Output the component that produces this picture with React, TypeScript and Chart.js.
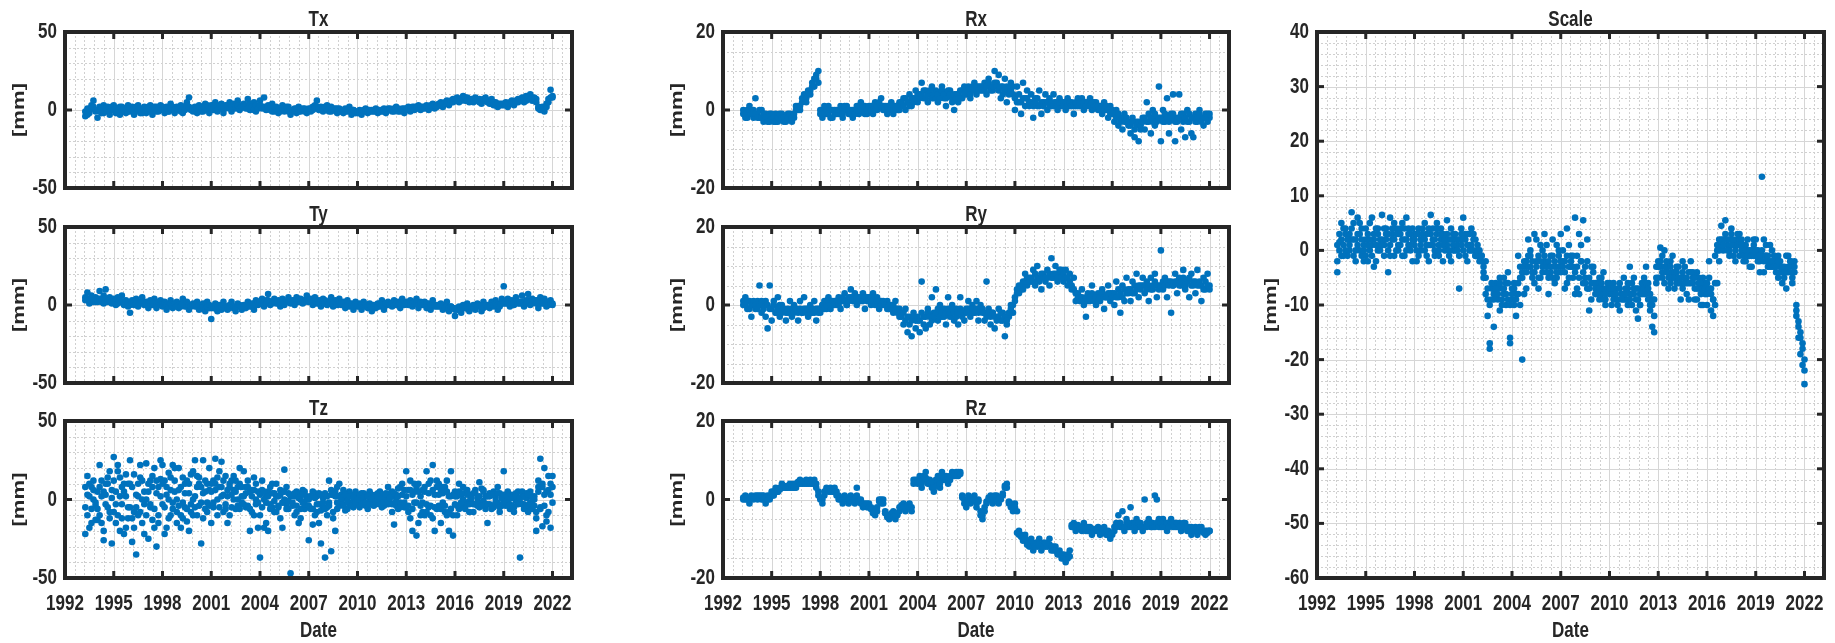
import React, { useEffect, useRef } from 'react';
import { Chart, registerables } from 'chart.js';
Chart.register(...registerables);

// ---------- data ----------
const X_MIN = 1992;
const X_MAX = 2023.2;
const X_TICKS = [1992, 1995, 1998, 2001, 2004, 2007, 2010, 2013, 2016, 2019, 2022];
const T_TICKS = [-50, 0, 50];
const R_TICKS = [-20, 0, 20];
const S_TICKS = [-60, -50, -40, -30, -20, -10, 0, 10, 20, 30, 40];

const DATES = [
  [1993.25, 1993.38, 1993.5, 1993.63, 1993.75, 1993.88],
  [1994, 1994.13, 1994.25, 1994.38, 1994.5, 1994.63, 1994.75, 1994.88],
  [1995, 1995.13, 1995.25, 1995.38, 1995.5, 1995.63, 1995.75, 1995.88],
  [1996, 1996.13, 1996.25, 1996.38, 1996.5, 1996.63, 1996.75, 1996.88],
  [1997, 1997.13, 1997.25, 1997.38, 1997.5, 1997.63, 1997.75, 1997.88],
  [1998, 1998.13, 1998.25, 1998.38, 1998.5, 1998.63, 1998.75, 1998.88],
  [1999, 1999.13, 1999.25, 1999.38, 1999.5, 1999.63, 1999.75, 1999.88],
  [2000, 2000.13, 2000.25, 2000.38, 2000.5, 2000.63, 2000.75, 2000.88],
  [2001, 2001.13, 2001.25, 2001.38, 2001.5, 2001.63, 2001.75, 2001.88],
  [2002, 2002.13, 2002.25, 2002.38, 2002.5, 2002.63, 2002.75, 2002.88],
  [2003, 2003.13, 2003.25, 2003.38, 2003.5, 2003.63, 2003.75, 2003.88],
  [2004, 2004.13, 2004.25, 2004.38, 2004.5, 2004.63, 2004.75, 2004.88],
  [2005, 2005.13, 2005.25, 2005.38, 2005.5, 2005.63, 2005.75, 2005.88],
  [2006, 2006.13, 2006.25, 2006.38, 2006.5, 2006.63, 2006.75, 2006.88],
  [2007, 2007.13, 2007.25, 2007.38, 2007.5, 2007.63, 2007.75, 2007.88],
  [2008, 2008.13, 2008.25, 2008.38, 2008.5, 2008.63, 2008.75, 2008.88],
  [2009, 2009.13, 2009.25, 2009.38, 2009.5, 2009.63, 2009.75, 2009.88],
  [2010, 2010.13, 2010.25, 2010.38, 2010.5, 2010.63, 2010.75, 2010.88],
  [2011, 2011.13, 2011.25, 2011.38, 2011.5, 2011.63, 2011.75, 2011.88],
  [2012, 2012.13, 2012.25, 2012.38, 2012.5, 2012.63, 2012.75, 2012.88],
  [2013, 2013.13, 2013.25, 2013.38, 2013.5, 2013.63, 2013.75, 2013.88],
  [2014, 2014.13, 2014.25, 2014.38, 2014.5, 2014.63, 2014.75, 2014.88],
  [2015, 2015.13, 2015.25, 2015.38, 2015.5, 2015.63, 2015.75, 2015.88],
  [2016, 2016.13, 2016.25, 2016.38, 2016.5, 2016.63, 2016.75, 2016.88],
  [2017, 2017.13, 2017.25, 2017.38, 2017.5, 2017.63, 2017.75, 2017.88],
  [2018, 2018.13, 2018.25, 2018.38, 2018.5, 2018.63, 2018.75, 2018.88],
  [2019, 2019.13, 2019.25, 2019.38, 2019.5, 2019.63, 2019.75, 2019.88],
  [2020, 2020.13, 2020.25, 2020.38, 2020.5, 2020.63, 2020.75, 2020.88],
  [2021, 2021.13, 2021.25, 2021.38, 2021.5, 2021.63, 2021.75, 2021.88],
  [2022],
];

const TX = [
  [-4, 1, -2, 3, 6, -1],
  [-5, 2, -2, 3, -1, 2, -3, 1],
  [3, -2, 1, -3, 2, 0, -2, 3],
  [-1, 2, -3, 1, 3, -2, 0, 2],
  [-2, 1, 3, -3, 0, 2, -1, 3],
  [1, -2, 2, -1, 4, 0, -2, 2],
  [0, 3, -2, 2, 5, 8, 1, -1],
  [2, -2, 3, 0, -1, 4, 1, -2],
  [3, 0, 5, -1, 2, 4, -2, 1],
  [2, 5, -1, 3, 1, 6, 0, 3],
  [4, 1, 7, 0, 3, 5, -1, 2],
  [6, 2, 8, 1, 3, 0, 4, -1],
  [2, -2, 1, 3, -1, 0, 2, -3],
  [0, 1, -2, 2, -1, 0, 1, -2],
  [1, -1, 2, 3, 6, 0, 2, -1],
  [1, 3, -1, 2, 0, 1, -2, 1],
  [0, -2, 1, -1, 2, -3, 0, -1],
  [-2, 0, -3, -1, 1, -2, 0, -1],
  [-1, 1, -2, 0, -1, 1, -2, 0],
  [0, -1, 1, 2, -1, 0, 1, -2],
  [1, 2, -1, 0, 2, 1, 3, 0],
  [2, 1, 3, 0, 2, 4, 1, 3],
  [3, 5, 2, 4, 6, 3, 5, 7],
  [6, 8, 5, 7, 9, 6, 8, 5],
  [7, 5, 8, 6, 7, 4, 6, 8],
  [6, 4, 7, 3, 5, 2, 4, 3],
  [3, 5, 2, 4, 6, 3, 5, 7],
  [6, 8, 5, 9, 7, 10, 6, 8],
  [7, 1, 0, 2, -1, 4, 7, 13],
  [9],
];

const TX_B = [
  [-1, -3, 0, 1, 2, 0],
  [0, -1, 1, -2, 1, 0, -1, 2],
  [0, 1, -1, 2, -1, 1, 0, -1],
  [1, 0, -1, 2, 0, 1, -2, 0],
  [0, 2, -1, 1, 2, -1, 1, 0],
  [2, 0, 1, -1, 1, 2, 0, 1],
  [1, -1, 2, 0, 3, 2, 0, 1],
  [0, 1, 2, -1, 2, 0, 3, 1],
  [1, 3, 2, 0, 3, 1, 2, 3],
  [3, 1, 2, 4, 2, 3, 1, 2],
  [2, 3, 1, 4, 2, 0, 3, 1],
  [3, 1, 2, 0, 2, 1, -1, 1],
  [0, 1, -1, 1, 0, 2, -1, 0],
  [-1, 0, 1, -1, 0, 1, -1, 0],
  [0, 1, 0, 1, 2, 1, 0, 1],
  [2, 0, 1, -1, 1, 0, 1, -1],
  [-1, 0, -1, 0, 1, -1, 0, -2],
  [-1, -2, -1, 0, -1, 0, -1, 0],
  [0, -1, 0, -1, 0, -1, 0, 1],
  [1, 0, -1, 0, 1, -1, 0, 1],
  [0, 1, 1, 2, 0, 2, 1, 2],
  [1, 2, 2, 1, 3, 2, 3, 2],
  [4, 3, 4, 5, 4, 5, 6, 5],
  [7, 6, 7, 6, 7, 8, 6, 7],
  [6, 7, 6, 7, 5, 6, 7, 6],
  [5, 5, 4, 5, 3, 4, 3, 4],
  [4, 3, 4, 5, 4, 5, 6, 5],
  [7, 6, 7, 6, 8, 7, 8, 7],
  [5, 2, 1, 0, 1, 2, 5, 8],
  [8],
];

const TY = [
  [3, 8, 1, 6, 2, 5],
  [4, 9, 2, 6, 10, 3, 5, 1],
  [4, 0, 5, 2, 6, 1, 3, -1],
  [-5, 3, 0, 4, -1, 2, 5, 0],
  [2, -2, 3, 0, 4, -2, 1, 3],
  [-1, 2, -3, 1, 3, -2, 0, 2],
  [-2, 1, 4, -1, 2, -3, 0, 1],
  [-1, 2, -3, 0, 1, -4, 2, -2],
  [-9, -2, 1, -4, 0, -3, 2, -1],
  [-3, 0, 2, -2, -4, 1, -1, -3],
  [0, -2, 2, -1, 1, -3, 3, 0],
  [1, 4, -1, 3, 7, 0, 2, 4],
  [1, 3, -1, 4, 0, 2, 5, 1],
  [3, 0, 5, 2, 4, 1, 3, 6],
  [2, 4, 0, 5, 1, 3, -1, 4],
  [3, 0, 2, 5, -1, 3, 1, 4],
  [0, 2, -2, 3, -1, 1, -3, 2],
  [-1, 1, -3, 2, 0, -2, 1, -4],
  [0, -2, 1, -1, 3, -3, 0, 2],
  [1, -1, 3, 0, 2, -2, 4, 1],
  [2, 0, 3, -1, 1, 4, -2, 2],
  [0, 2, -2, 1, -3, 3, -1, 0],
  [-1, 1, -3, 0, 2, -4, -1, -2],
  [-7, -3, -1, -5, 0, -2, 1, -4],
  [-2, 0, -3, 1, -1, -4, 2, -1],
  [0, -2, 2, -1, 3, -3, 1, 4],
  [12, 1, 4, -1, 3, 0, 5, 2],
  [1, 6, -1, 3, 7, 0, 4, 2],
  [3, -2, 5, 1, 4, -1, 2, 3],
  [0],
];

const TY_B = [
  [5, 4, 3, 4, 3, 2],
  [2, 4, 3, 1, 4, 2, 3, 2],
  [2, 3, 1, 3, 2, 0, 2, 1],
  [0, 1, 2, 1, 0, 1, 2, 1],
  [1, 0, 1, 2, 1, 0, 2, 0],
  [0, 1, 0, -1, 1, 0, 1, -1],
  [0, -1, 1, 0, -1, 0, -1, 0],
  [0, -1, 0, -2, -1, 0, -1, 0],
  [-2, -1, -2, 0, -2, -1, 0, -2],
  [-1, -2, 0, -1, -2, -1, 0, -1],
  [-1, 0, 1, 0, -1, 1, 0, 2],
  [2, 1, 2, 1, 3, 2, 1, 2],
  [2, 1, 2, 3, 1, 2, 3, 2],
  [2, 3, 2, 3, 2, 3, 2, 3],
  [3, 2, 2, 3, 2, 1, 2, 2],
  [1, 2, 1, 2, 1, 2, 0, 1],
  [1, 0, 1, 0, 1, 0, -1, 0],
  [0, -1, 0, -1, 0, -1, 0, -1],
  [-1, 0, -1, 1, 0, -1, 1, 0],
  [0, 1, 0, 1, 0, 1, 2, 0],
  [1, 1, 0, 1, 2, 1, 0, 1],
  [1, 0, 1, -1, 0, 1, 0, -1],
  [0, -1, 0, -2, -1, -2, -1, -2],
  [-3, -2, -3, -2, -1, -2, -1, -2],
  [-1, -2, -1, -1, 0, -1, -2, 0],
  [-1, 0, 1, 0, 1, 0, -1, 1],
  [1, 2, 1, 0, 2, 1, 2, 1],
  [2, 1, 2, 1, 3, 2, 1, 3],
  [1, 2, 1, 2, 1, 2, 0, 1],
  [1],
];

const TZ_A = [
  [-5, 15, -18, 8, 0, -13],
  [-13, 22, 2, -26, 10, -5, 18, -28],
  [27, -15, 22, -20, 8, -22, 16, -5],
  [25, -27, -8, -35, 10, 22, -15, 5],
  [23, -25, 12, -13, 20, -30, 8, 25],
  [22, -22, 8, 17, -10, 22, 5, -15],
  [20, -18, 14, -5, 12, -20, 16, 0],
  [25, -10, 10, -28, 25, 5, -8, 20],
  [-15, 12, 26, 0, 8, 24, -8, 15],
  [-15, 10, 3, 15, -6, 8, 20, -2],
  [18, -5, 12, -20, 6, -10, 10, -2],
  [-37, 12, -18, 2, -20, 8, -5, 4],
  [10, -5, 6, -18, 19, -3, 4, -47],
  [3, -10, 5, -15, 0, 6, -6, 2],
  [-26, 2, -16, 4, -8, -15, 3, -5],
  [-37, -5, 12, -33, 3, -20, 8, -4],
  [-2, 6, -7, 4, -3, 2, -5, 5],
  [2, -5, 4, -3, 3, -6, 5, -1],
  [-4, 3, -2, 5, -5, 1, 4, -3],
  [-2, 5, -16, 3, -6, 8, -3, 6],
  [18, -8, 12, -20, 5, -23, 10, -4],
  [6, -10, 18, -5, 12, 22, -20, 8],
  [10, -15, 4, -8, 12, -20, 18, -23],
  [5, -10, 10, -5, 8, -2, 6, -8],
  [3, -8, 6, -4, 11, -2, 5, -6],
  [-15, 4, -6, 5, -3, 8, -8, 2],
  [18, -4, 5, -6, 3, -8, 4, -3],
  [-37, 2, -6, 4, -8, 5, -3, 2],
  [-20, 5, 26, -17, 20, -10, 15, -18],
  [15],
];

const TZ_B = [
  [-22, 3, 10, -15, 6, -2],
  [5, -10, 12, -20, 3, 14, -8, 1],
  [12, -3, 18, 2, -12, 5, -18, 10],
  [-5, 8, -18, 3, -10, 14, 0, -22],
  [0, 10, -5, 15, -18, 4, -10, 13],
  [-3, 12, -18, 0, 14, -6, 20, -8],
  [6, -10, -2, 10, -14, 4, -8, 18],
  [2, 15, -4, 8, -12, 12, -2, 6],
  [5, -5, 10, -10, 18, 2, 12, -3],
  [6, -10, 12, 0, 5, -4, 10, 2],
  [2, 8, -4, 5, -8, 14, 0, -18],
  [-10, 6, 0, -15, 5, -3, 10, -8],
  [-8, 2, -12, 5, 0, 8, -6, 2],
  [-4, 2, -8, 4, -12, -2, 5, -5],
  [0, -6, 5, -10, 2, -3, -28, 1],
  [4, -10, -2, 6, -12, 2, -6, 10],
  [3, -4, 1, -6, 5, -2, 3, -3],
  [-3, 1, -2, 4, -4, 2, -1, 3],
  [2, -3, 4, -1, 3, -4, 0, 8],
  [4, -8, 2, -4, 7, -2, 10, -5],
  [-5, 6, -12, 3, -2, 8, -15, 2],
  [-2, 5, -8, 10, -4, -12, 3, -6],
  [-4, 6, -2, 8, -10, 2, -6, 3],
  [-3, 2, -6, 3, 0, -4, 4, -1],
  [-2, 4, -3, 1, -5, 7, -1, 2],
  [2, -3, 3, -5, 1, -2, 4, -4],
  [-2, 3, -2, 1, -4, 2, -1, 5],
  [-2, 5, -3, 1, -5, 3, -6, 0],
  [-8, 12, -5, 8, 3, -14, 6, 10],
  [-2],
];

const TZ_C = [
  [8, -10, 2, -6, 12, -4],
  [-6, 8, -15, 5, -3, 10, -12, 6],
  [-8, 5, -10, 14, -3, 10, 2, -12],
  [10, -12, 16, -5, 2, -8, 12, -3],
  [-10, 5, -3, 8, -6, 12, -15, 2],
  [10, -5, 3, -12, 6, -2, 12, 0],
  [-4, 8, -12, 4, -6, 10, -3, -10],
  [-5, 8, 14, -2, 4, -6, 10, -4],
  [10, -2, 6, 14, -5, 8, 3, -6],
  [2, 8, -5, 6, 12, 0, -6, 8],
  [-3, 4, 8, -6, 2, 6, -3, 5],
  [3, -5, 5, -2, 2, -6, 4, -1],
  [2, -4, 3, -2, 5, -6, -1, 3],
  [-2, 4, -4, 1, -6, 3, -3, 0],
  [-4, 2, -6, 1, -3, 4, -7, -2],
  [-6, 2, -4, 3, -8, 5, -2, 2],
  [1, -3, 3, -1, 2, -4, 1, -2],
  [0, 3, -3, 1, -2, 2, -3, 1],
  [1, -1, 2, -3, 1, -2, 3, -1],
  [1, -3, 4, -1, 2, -5, 3, -2],
  [2, -4, 6, -6, 10, -2, 5, -10],
  [-8, 8, -3, 4, -10, 6, -5, 12],
  [3, -6, 8, -4, 5, -8, 2, -10],
  [2, -4, 5, -2, 4, -6, 3, -3],
  [1, -3, 4, -2, 2, -4, 6, -3],
  [-3, 2, -4, 3, -2, 4, -5, 1],
  [3, -1, 2, -3, 1, -5, 2, -1],
  [1, -3, 2, -4, 3, -2, 1, -4],
  [-12, 8, -6, 10, -4, 5, -8, 3],
  [8],
];

const RX = [
  [-1, -2, 0, 1, -1, -2],
  [3, -1, -2, 0, -3, -1, -2, -3],
  [-2, -3, -1, -3, -2, -1, -3, -2],
  [-1, -2, -3, -2, 0, 1, 0, 2],
  [3, 2, 4, 5, 6, 8, 9, 10],
  [-1, -2, 0, -1, 1, -2, 0, -1],
  [0, -1, 1, -2, 0, 1, -1, 0],
  [-2, 0, 1, -1, 2, 0, 1, -1],
  [0, 1, -1, 2, 0, 1, 3, 0],
  [1, -1, 0, 2, -1, 1, 0, 2],
  [1, 3, 0, 2, 4, 1, 3, 5],
  [2, 4, 7, 3, 5, 2, 4, 6],
  [3, 5, 2, 4, 6, 3, 1, 4],
  [5, 3, 0, 4, 2, 5, 3, 6],
  [4, 6, 3, 5, 7, 4, 6, 5],
  [5, 7, 4, 8, 6, 5, 10, 7],
  [9, 3, 6, 8, 2, 5, 7, 4],
  [0, 6, 2, -1, 7, 3, 5, 1],
  [4, -2, 3, 1, 5, -1, 2, 4],
  [0, 3, 1, 4, 2, 0, 3, 1],
  [2, 0, 3, 1, 2, -1, 1, 3],
  [1, 3, 0, 2, 1, 3, 0, 2],
  [2, 0, 1, -1, 2, 0, -2, 1],
  [-1, -3, 0, -4, -2, -5, -1, -3],
  [-4, -6, -2, -7, -3, -8, -5, -2],
  [-5, 2, -3, -6, 0, -4, -2, 6],
  [-8, 0, -3, 3, -6, -1, 4, -8],
  [-2, 4, -5, -1, -7, 0, -3, -6],
  [-7, -1, -3, 0, -2, -4, -1, -3],
  [-2],
];

const RX_B = [
  [0, -1, -2, 0, -1, 0],
  [-1, -2, 0, -2, -1, -2, -3, -1],
  [-1, -2, -3, -2, -1, -2, -2, -3],
  [-2, -1, -2, -1, 1, 0, 1, 3],
  [4, 3, 5, 4, 7, 6, 8, 7],
  [0, -1, 1, 0, -1, 0, -2, 0],
  [-1, 0, 0, -1, 1, 0, 0, -1],
  [0, -1, 0, 1, 0, 1, -1, 0],
  [1, 0, 1, 0, 1, 2, 1, 1],
  [0, 1, 0, 1, 0, 0, 1, 0],
  [2, 1, 3, 2, 1, 3, 2, 3],
  [4, 3, 4, 5, 3, 4, 5, 3],
  [4, 3, 4, 3, 5, 4, 3, 5],
  [4, 2, 4, 3, 4, 3, 5, 4],
  [5, 5, 4, 6, 5, 6, 5, 6],
  [6, 5, 6, 7, 5, 6, 7, 6],
  [5, 6, 4, 5, 6, 4, 5, 6],
  [3, 2, 4, 2, 3, 1, 3, 2],
  [2, 1, 2, 3, 1, 2, 1, 2],
  [2, 1, 2, 1, 2, 1, 2, 2],
  [1, 2, 1, 2, 1, 1, 2, 1],
  [2, 1, 2, 1, 2, 1, 2, 1],
  [1, 1, 0, 1, 0, 1, 0, -1],
  [0, -1, -2, -1, -3, -2, -3, -2],
  [-3, -4, -3, -5, -4, -3, -4, -3],
  [-2, -3, -1, -2, -3, -1, -3, -2],
  [-2, -3, -1, -2, -3, -2, -1, -3],
  [-3, -2, -1, -3, -2, -3, -1, -2],
  [-2, -3, -2, -1, -3, -2, -2, -1],
  [-1],
];

const RY = [
  [0, 2, -1, 1, -3, 0],
  [-1, 1, 5, -2, 0, -3, -6, 5],
  [-4, 1, -2, 2, -3, 0, -1, -4],
  [-2, 1, -3, 0, -1, -4, 1, -2],
  [2, -1, -3, 0, -2, 1, -4, -1],
  [-2, 0, 1, -1, 2, -1, 0, 1],
  [0, 2, -1, 1, 3, 0, 2, 4],
  [1, 3, 0, 2, 1, 3, -1, 2],
  [2, 0, 3, 1, 2, -1, 1, 0],
  [0, 1, -1, 0, -2, 1, -1, -3],
  [-2, -5, -1, -7, -3, -8, -2, -6],
  [-4, -7, 6, -3, -6, -1, -5, 2],
  [-2, 4, -4, 0, -3, -1, -5, 2],
  [-3, 0, -4, -1, -5, 2, -2, -4],
  [-1, 1, -3, 0, -2, 1, -4, 0],
  [-2, -4, 6, -1, -5, -2, -6, -3],
  [-1, -4, -2, -8, -5, -3, 0, -2],
  [1, 3, 5, 4, 6, 8, 5, 7],
  [6, 9, 5, 10, 7, 4, 8, 6],
  [9, 5, 12, 7, 10, 6, 8, 9],
  [6, 9, 5, 8, 4, 7, 1, 3],
  [2, 4, 0, -3, 3, 1, 5, 2],
  [0, 3, 1, 4, -1, 2, 5, 1],
  [3, 0, 6, 2, -2, 5, 1, 7],
  [4, 1, 6, 3, 8, 2, 5, 7],
  [3, 6, 1, 7, 4, 8, 2, 5],
  [14, 4, 7, 2, 6, -2, 5, 8],
  [3, 7, 5, 9, 4, 6, 2, 8],
  [6, 3, 9, 5, 1, 7, 4, 8],
  [5],
];

const RY_B = [
  [1, 0, 1, -1, 0, 1],
  [0, -1, 0, 1, -1, 1, 0, -1],
  [-1, 0, -2, -1, 0, -2, -1, -2],
  [-1, -2, -1, -2, -1, -2, -1, -2],
  [-1, -2, -1, -2, -1, -2, -1, -2],
  [-1, 0, -1, 0, 1, 0, 1, 0],
  [1, 0, 1, 2, 1, 0, 1, 2],
  [2, 1, 2, 1, 2, 1, 2, 1],
  [1, 2, 1, 0, 1, 1, 0, 1],
  [0, -1, 0, -1, 0, -1, -2, -1],
  [-3, -2, -4, -3, -5, -4, -3, -4],
  [-3, -4, -2, -5, -3, -2, -3, -4],
  [-3, -2, -1, -3, -2, -3, -2, -1],
  [-2, -1, -2, -3, -2, -1, -3, -2],
  [-2, -1, -2, -1, -2, -1, -2, -1],
  [-1, -2, -3, -2, -3, -2, -3, -4],
  [-3, -2, -4, -3, -4, -2, -1, 0],
  [2, 4, 3, 5, 4, 6, 7, 6],
  [7, 6, 8, 7, 6, 8, 7, 7],
  [7, 8, 7, 8, 8, 7, 9, 7],
  [8, 7, 7, 6, 5, 4, 3, 2],
  [1, 2, 1, 2, 1, 2, 3, 1],
  [2, 1, 2, 3, 2, 2, 3, 3],
  [2, 3, 2, 4, 3, 2, 4, 3],
  [3, 4, 3, 5, 4, 5, 4, 5],
  [5, 4, 5, 4, 5, 6, 5, 4],
  [5, 6, 5, 6, 5, 6, 5, 6],
  [6, 5, 6, 7, 5, 6, 7, 5],
  [5, 6, 5, 6, 5, 4, 6, 5],
  [4],
];

const RZ = [
  [0, 1, 0, -1, 1, 0],
  [1, 0, 1, 0, 1, -1, 1, 0],
  [2, 1, 3, 2, 3, 4, 3, 3],
  [3, 4, 3, 4, 3, 4, 5, 4],
  [4, 5, 4, 5, 4, 5, 4, 2],
  [0, -1, 1, 3, 2, 3, 2, 3],
  [2, 1, 0, -1, 1, 0, -1, 1],
  [0, -1, 3, 0, -1, -2, -1, -2],
  [-1, -2, -3, -4, -3, 0, -1, 0],
  [-3, -4, -5, -4, -3, -5, -4, -3],
  [-2, -1, -3, -2, -1, -3, 4, 5],
  [4, 6, 3, 5, 7, 4, 5, 3],
  [2, 4, 6, 3, 7, 5, 6, 4],
  [5, 7, 6, 7, 6, 7, 1, 0],
  [-2, 1, -1, 0, 1, -2, 0, -4],
  [-5, -3, -1, 0, 1, -1, 0, 1],
  [-1, 0, 1, 3, 4, -1, -2, -3],
  [-1, -3, -8, -9, -10, -9, -11, -12],
  [-10, -13, -11, -12, -10, -13, -11, -12],
  [-11, -10, -13, -12, -12, -14, -13, -15],
  [-14, -16, -15, -13, -7, -6, -8, -7],
  [-7, -8, -6, -7, -8, -7, -9, -8],
  [-8, -7, -9, -8, -7, -9, -8, -10],
  [-9, -8, -6, -4, -7, -3, -8, -5],
  [-7, -2, -6, -8, -5, -7, -6, -8],
  [0, -6, -5, -7, -6, 1, 0, -5],
  [-7, -5, -6, -8, -6, -5, -7, -6],
  [-7, -6, -8, -7, -6, -8, -7, -9],
  [-8, -7, -9, -8, -7, -8, -9, -8],
  [-8],
];

const RZ_B = [
  [0.5, 0, 0.5, 0, 0.5, 0.5],
  [0.5, 1, 0.5, 1, 0, 0.5, 0, 0.5],
  [1.5, 2, 2.5, 2, 2.5, 3, 3.5, 3],
  [3.5, 3, 3.5, 3, 4, 4.5, 4, 4.5],
  [4.5, 4, 4.5, 4, 4.5, 4, 3, 1],
  [0.5, 0, 2, 2.5, 2.5, 2, 2.5, 2],
  [1, 0, 0.5, 0, 0, 0.5, 0, 0],
  [-0.5, 0, 1, -0.5, 0, -1, -1.5, -1],
  [-2, -2.5, -3.5, -3, -2, -0.5, 0, -1],
  [-3.5, -4.5, -4, -3.5, -4.5, -4, -3.5, -2],
  [-1.5, -2, -2.5, -1.5, -2, -2, 5, 4.5],
  [5, 4.5, 4, 6, 5.5, 5, 4, 4.5],
  [3, 5, 5, 4, 6, 5.5, 5, 5.5],
  [6, 6.5, 6.5, 6, 7, 6.5, 0.5, -1],
  [-1, 0, 0.5, -0.5, 0, -1, -0.5, -3],
  [-4, -2, -0.5, 0.5, 0, 0.5, 1, 0],
  [0, 0.5, 1.5, 3.5, 3, -0.5, -1, -2],
  [-2, -8.5, -9, -9.5, -10.5, -10, -11.5, -11],
  [-11, -12, -12, -11, -11.5, -12, -12, -11],
  [-12, -11.5, -12, -13, -13, -13.5, -14, -14],
  [-15, -15, -14, -14.5, -6.5, -7, -7.5, -6.5],
  [-7.5, -7, -7.5, -8, -7, -8, -8, -7.5],
  [-7.5, -8, -8, -8.5, -8, -8, -9, -9],
  [-8.5, -7, -7, -6, -6, -7, -7, -6],
  [-6, -7, -7, -6, -7, -6, -7, -7],
  [-7, -7, -6, -6, -7, -7, -6, -7],
  [-6, -7, -7, -6, -7, -6, -6, -7],
  [-6, -7, -7, -6, -7, -7, -8, -7],
  [-7.5, -8, -8, -7, -8, -8.5, -8, -8.5],
  [-8],
];

const SCALE_A = [
  [-2, 1.5, 5, 1, 3, -1],
  [3, 7, -1, 2, 6, 0, 4, -2],
  [2, -2, 5, 1, -3, 4, 0, 2],
  [6.5, 1, 3, -4, 6, 2, -1, 4],
  [0, 4, -1, 2, 6, 1, 3, -2],
  [3, -2, 4, 0, 2, 5, -1, 1],
  [6.5, 2, -1, 3, 1, 4, -2, 2],
  [5.5, 2, -2, 3, 0, 2, -1, 4],
  [6, 3, -2, 1, 4, 0, 2, -1],
  [0, -2, -3, -5, -9, -17, -7, -14],
  [-6, -9, -11, -7, -5, -10, -4, -16],
  [-7, -10, -12, -8, -5, -20, -3, -7],
  [2, -1, -5, 3, -2, -7, 1, -3],
  [3, -3, -8, -1, 2, -3, -5, 0],
  [3, -2, -7, 4, -3, -1, -5, 6],
  [-7, 3, -2, 5.5, -5, 2, -11, -3],
  [-4, -8, -6, -9, -5, -7, -10, -6],
  [-8, -10, -6, -9, -7, -11, -8, -5],
  [-7, -10, -3, -8, -7, -11, -12.5, -8],
  [-6, -8, -3, -9, -11, -14, -15, -3],
  [-2, 0.5, -4, 0, -3, -7, -2, -4],
  [-7, -3, -6, -9, -2, -5, -8, -4],
  [-2, -5, -9, -4, -7, -10, -5, -8],
  [-10, -2, -7, -12, -10, -6, 2, 4.5],
  [2, 5.5, 1, -1, 3, 1, -2, 2],
  [3, 0, -2, 1, 2, -1, -3, 1],
  [2, -2, -4, 13.5, 2, -1, -3, 1],
  [0, -2, -4, -1, -3, -6, -5, -7],
  [-1, -3, -6, -2, -10, -13, -15, -17],
  [-22],
];

const SCALE_B = [
  [-4, 0, 2, -1, 4, 2],
  [0, 2, 5, -2, 1, 3, -1, 1],
  [-1, 3, 0, 6, 2, -2, 3, 1],
  [2, -1, 4, 0, 1, 3, 5, 0],
  [3, 1, 5, -1, 2, 4, 0, 2],
  [1, 3, -1, 2, 4, 0, 3, -2],
  [1, 4, 0, 5, -1, 2, 3, 0],
  [1, -1, 4, 0, 2, 1, -7, 3],
  [2, -1, 3, 0, 1, 3, -1, 1],
  [-1, -1, -4, -2, -12, -18, -9, -8],
  [-8, -7, -5, -10, -8, -6, -9, -17],
  [-9, -6, -8, -1, -10, -4, -8, -2],
  [-3, 0, -4, -6, 2, -1, -5, 0],
  [-2, 1, -5, -4, -1, -6, 1, -3],
  [-4, 0, -2, -6, 1, -3, -1, -8],
  [-1, -8, 1, -4, -6, -2, -7, -9],
  [-3, -6, -7, -5, -8, -4, -9, -7],
  [-6, -7, -9, -8, -10, -6, -8, -9],
  [-9, -6, -8, -10, -5, -9, -7, -10],
  [-7, -5, -8, -6, -10, -9, -12, -6],
  [-5, -3, -1, -6, -2, -4, -6, -1],
  [-4, -6, -3, -5, -7, -3, -6, -9],
  [-6, -4, -7, -9, -5, -8, -10, -6],
  [-8, -5, -11, -9, -1, 1, -2, 2],
  [0, 3, 2, 0, 4, -1, 1, 3],
  [-1, 2, 1, -2, 0, -3, 0, 2],
  [-1, 0, -2, -1, -4, 1, -2, -3],
  [-3, -1, -2, -5, -2, -4, -3, -1],
  [-4, -2, -5, -4, -12, -16, -19, -21],
  [-24.5],
];

const SCALE_C = [
  [1, 3, -1, 4, 0, 2],
  [1, 4, 2, 0, 3, 5, 2, 0],
  [4, 1, 2, -1, 3, 1, 4, 0],
  [1, 4, 2, 3, -1, 4, 2, 3],
  [1, 3, 2, 4, 0, 3, 1, 4],
  [2, 0, 3, 1, 3, 2, 1, 4],
  [3, 1, 2, 4, 0, 3, 1, 2],
  [3, 0, 2, 1, 3, 0, 2, 1],
  [0, 2, 1, 3, 0, 2, -1, 0],
  [-2, -1, -5, -8, -7, -10, -6, -9],
  [-7, -8, -6, -9, -7, -8, -6, -10],
  [-8, -7, -9, -6, -3, -5, -2, -4],
  [-1, -3, -2, -4, -3, -5, -2, -4],
  [-1, -4, -2, -3, -5, -2, -4, -1],
  [-2, -3, -4, -1, -5, -2, -3, -4],
  [-3, -5, -2, -6, -3, -7, -5, -6],
  [-6, -7, -8, -7, -6, -9, -8, -7],
  [-7, -8, -7, -8, -9, -7, -9, -8],
  [-8, -7, -9, -6, -8, -7, -9, -10],
  [-8, -7, -6, -7, -8, -10, -9, -5],
  [-3, -2, -5, -3, -4, -5, -3, -5],
  [-5, -4, -5, -6, -4, -6, -5, -6],
  [-4, -6, -5, -7, -6, -6, -7, -7],
  [-6, -7, -8, -9, -6, 0, 0, 1],
  [1, 2, 0, 2, 1, 2, 0, 1],
  [1, 1, -1, 0, -1, 0, -1, -1],
  [0, -1, -1, 0, -2, -1, -1, -2],
  [-2, -3, -3, -2, -4, -3, -4, -4],
  [-3, -2, -4, -3, -11, -14, -16, -18],
  [-20],
];

// ---------- styling / layout ----------
const W = 1835;
const H = 643;
const BLUE = '#0072BD';
const INK = '#262626';
const FONT = 'bold 17px "Liberation Sans", Arial, Helvetica, sans-serif';
const SY = 1.3;
const X_MINOR_STEP = 0.6;

type Panel = {
  key: string;
  title: string;
  series: number[][][];
  yMin: number;
  yMax: number;
  yTicks: number[];
  yMinor: number;
  box: [number, number, number, number];
  xLabels: boolean;
};

const C1: [number, number] = [65, 572];
const C2: [number, number] = [723, 1229];
const C3: [number, number] = [1317, 1824];
const R1: [number, number] = [32, 188];
const R2: [number, number] = [227, 383];
const R3: [number, number] = [421, 578];

const PANELS: Panel[] = [
  { key: 'tx', title: 'Tx', series: [TX, TX_B], yMin: -50, yMax: 50, yTicks: T_TICKS, yMinor: 10, box: [C1[0], R1[0], C1[1], R1[1]], xLabels: false },
  { key: 'ty', title: 'Ty', series: [TY, TY_B], yMin: -50, yMax: 50, yTicks: T_TICKS, yMinor: 10, box: [C1[0], R2[0], C1[1], R2[1]], xLabels: false },
  { key: 'tz', title: 'Tz', series: [TZ_A, TZ_B, TZ_C], yMin: -50, yMax: 50, yTicks: T_TICKS, yMinor: 10, box: [C1[0], R3[0], C1[1], R3[1]], xLabels: true },
  { key: 'rx', title: 'Rx', series: [RX, RX_B], yMin: -20, yMax: 20, yTicks: R_TICKS, yMinor: 5, box: [C2[0], R1[0], C2[1], R1[1]], xLabels: false },
  { key: 'ry', title: 'Ry', series: [RY, RY_B], yMin: -20, yMax: 20, yTicks: R_TICKS, yMinor: 5, box: [C2[0], R2[0], C2[1], R2[1]], xLabels: false },
  { key: 'rz', title: 'Rz', series: [RZ, RZ_B], yMin: -20, yMax: 20, yTicks: R_TICKS, yMinor: 5, box: [C2[0], R3[0], C2[1], R3[1]], xLabels: true },
  { key: 'sc', title: 'Scale', series: [SCALE_A, SCALE_B, SCALE_C], yMin: -60, yMax: 40, yTicks: S_TICKS, yMinor: 2, box: [C3[0], R1[0], C3[1], R3[1]], xLabels: true },
];

function toPoints(series: number[][][]) {
  const pts: { x: number; y: number }[] = [];
  for (const s of series) {
    DATES.forEach((row, i) => {
      row.forEach((d, k) => {
        const v = s[i] ? s[i][k] : undefined;
        if (v !== undefined && v !== null) pts.push({ x: d, y: v });
      });
    });
  }
  return pts;
}

function text(ctx: CanvasRenderingContext2D, s: string, x: number, y: number, align: CanvasTextAlign, base: CanvasTextBaseline) {
  ctx.save();
  ctx.translate(x, y);
  ctx.scale(1, SY);
  ctx.textAlign = align;
  ctx.textBaseline = base;
  ctx.fillText(s, 0, 0);
  ctx.restore();
}

function makePlugin(p: Panel) {
  return {
    id: 'frame_' + p.key,
    beforeDatasetsDraw(chart: any) {
      const { ctx, chartArea: a } = chart;
      const xs = chart.scales.x;
      const ys = chart.scales.y;
      ctx.save();
      ctx.beginPath();
      ctx.rect(a.left, a.top, a.right - a.left, a.bottom - a.top);
      ctx.clip();
      ctx.lineWidth = 1;
      ctx.strokeStyle = '#d0d0d0';
      ctx.setLineDash([2, 2]);
      for (let v = X_MIN; v <= X_MAX + 1e-6; v += X_MINOR_STEP) {
        const px = Math.round(xs.getPixelForValue(v)) + 0.5;
        ctx.beginPath(); ctx.moveTo(px, a.top); ctx.lineTo(px, a.bottom); ctx.stroke();
      }
      for (let v = p.yMin; v <= p.yMax + 1e-6; v += p.yMinor) {
        const py = Math.round(ys.getPixelForValue(v)) + 0.5;
        ctx.beginPath(); ctx.moveTo(a.left, py); ctx.lineTo(a.right, py); ctx.stroke();
      }
      ctx.setLineDash([]);
      ctx.strokeStyle = '#d6d6d6';
      for (const v of X_TICKS) {
        const px = Math.round(xs.getPixelForValue(v)) + 0.5;
        ctx.beginPath(); ctx.moveTo(px, a.top); ctx.lineTo(px, a.bottom); ctx.stroke();
      }
      for (const v of p.yTicks) {
        const py = Math.round(ys.getPixelForValue(v)) + 0.5;
        ctx.beginPath(); ctx.moveTo(a.left, py); ctx.lineTo(a.right, py); ctx.stroke();
      }
      ctx.restore();
    },
    afterDraw(chart: any) {
      const { ctx, chartArea: a } = chart;
      const xs = chart.scales.x;
      const ys = chart.scales.y;
      ctx.save();
      ctx.strokeStyle = INK;
      ctx.lineWidth = 3;
      const TL = 7;
      for (const v of X_TICKS) {
        const px = xs.getPixelForValue(v);
        ctx.beginPath(); ctx.moveTo(px, a.bottom); ctx.lineTo(px, a.bottom - TL); ctx.stroke();
        ctx.beginPath(); ctx.moveTo(px, a.top); ctx.lineTo(px, a.top + TL); ctx.stroke();
      }
      for (const v of p.yTicks) {
        const py = ys.getPixelForValue(v);
        ctx.beginPath(); ctx.moveTo(a.left, py); ctx.lineTo(a.left + TL, py); ctx.stroke();
        ctx.beginPath(); ctx.moveTo(a.right, py); ctx.lineTo(a.right - TL, py); ctx.stroke();
      }
      ctx.lineWidth = 4;
      ctx.strokeRect(a.left, a.top, a.right - a.left, a.bottom - a.top);

      ctx.fillStyle = INK;
      ctx.font = FONT;
      for (const v of p.yTicks) {
        text(ctx, String(v), a.left - 8, ys.getPixelForValue(v), 'right', 'middle');
      }
      if (p.xLabels) {
        for (const v of X_TICKS) {
          text(ctx, String(v), xs.getPixelForValue(v), a.bottom + 32, 'center', 'alphabetic');
        }
        text(ctx, 'Date', (a.left + a.right) / 2, 637, 'center', 'alphabetic');
      }
      text(ctx, p.title, (a.left + a.right) / 2, a.top - 6, 'center', 'alphabetic');
      ctx.save();
      ctx.translate(a.left - 46, (a.top + a.bottom) / 2);
      ctx.rotate(-Math.PI / 2);
      ctx.scale(SY, 1);
      ctx.textAlign = 'center';
      ctx.textBaseline = 'middle';
      ctx.fillText('[mm]', 0, 0);
      ctx.restore();
      ctx.restore();
    },
  };
}

function PanelChart({ p }: { p: Panel }) {
  const ref = useRef<HTMLCanvasElement | null>(null);
  useEffect(() => {
    if (!ref.current) return;
    const [l, t, r, b] = p.box;
    const chart = new Chart(ref.current, {
      type: 'scatter',
      data: {
        datasets: [
          {
            data: toPoints(p.series),
            pointRadius: 3.3,
            pointBackgroundColor: BLUE,
            pointBorderWidth: 0,
            showLine: false,
          },
        ],
      },
      options: {
        animation: false,
        responsive: false,
        events: [],
        layout: { padding: { left: l, top: t, right: W - r, bottom: H - b } },
        plugins: { legend: { display: false }, tooltip: { enabled: false }, title: { display: false } },
        scales: {
          x: { type: 'linear', min: X_MIN, max: X_MAX, display: false },
          y: { type: 'linear', min: p.yMin, max: p.yMax, display: false },
        },
      },
      plugins: [makePlugin(p)],
    } as any);
    return () => chart.destroy();
  }, [p]);
  return <canvas ref={ref} width={W} height={H} style={{ position: 'absolute', left: 0, top: 0, width: W, height: H }} />;
}

export default function App() {
  return (
    <div style={{ position: 'absolute', left: 0, top: 0, width: W, height: H, background: '#ffffff', overflow: 'hidden' }}>
      {PANELS.map((p) => (
        <PanelChart key={p.key} p={p} />
      ))}
    </div>
  );
}
